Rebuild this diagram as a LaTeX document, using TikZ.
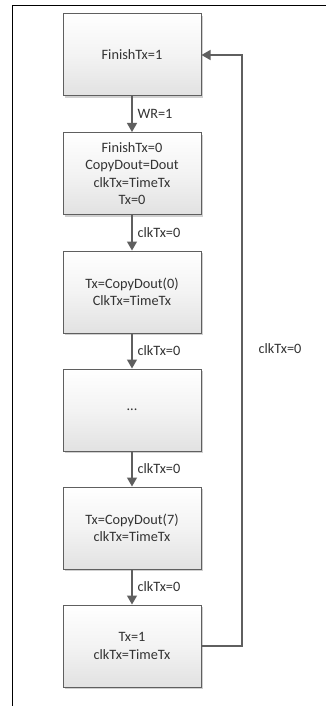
\documentclass[tikz,border=0pt]{standalone}
\usepackage{fontspec}
\setmainfont{Carlito}
\usetikzlibrary{arrows.meta,shadows}
\definecolor{boxline}{HTML}{5F5F5F}
\definecolor{boxfill}{HTML}{F3F3F3}
\definecolor{txt}{HTML}{333333}
\begin{document}
\begin{tikzpicture}[x=1pt,y=1pt,
  every node/.style={font=\fontsize{14.3}{17.3}\selectfont, text=txt},
  statebox/.style={draw=boxline, line width=1pt, top color=white, bottom color=boxfill!85!gray!100, middle color=boxfill,
    minimum width=138pt, minimum height=82pt, align=center, inner sep=0pt,
    drop shadow={shadow xshift=2pt, shadow yshift=-2pt, fill=gray!60, opacity=0.6}},
  flow/.style={draw=boxline, line width=1.2pt, -{Triangle[length=9pt,width=10pt]}},
  lbl/.style={right=5pt, inner sep=0pt}
]
\useasboundingbox (0,0) rectangle (326,-706);
\fill[white] (0,0) rectangle (326,-706);
% frame
\coordinate (ftl) at (12.5,-6);
\coordinate (ftr) at (326,-6);
\coordinate (fbot) at (12.5,-706);
\draw[line width=1pt] (ftr) -- (ftl) -- (fbot);
% states
\node[statebox] (b1) at (132,-55) {FinishTx=1};
\node[statebox] (b2) at (132,-173.5) {FinishTx=0\\CopyDout=Dout\\clkTx=TimeTx\\Tx=0};
\node[statebox] (b3) at (132,-292) {Tx=CopyDout(0)\\ClkTx=TimeTx};
\node[statebox] (b4) at (132,-410) {...};
\node[statebox] (b5) at (132,-528) {Tx=CopyDout(7)\\clkTx=TimeTx};
\node[statebox] (b6) at (132,-646) {Tx=1\\clkTx=TimeTx};
% transitions
\draw[flow] (b1) -- node[lbl] {WR=1} (b2);
\draw[flow] (b2) -- node[lbl] {clkTx=0} (b3);
\draw[flow] (b3) -- node[lbl] {clkTx=0} (b4);
\draw[flow] (b4) -- node[lbl] {clkTx=0} (b5);
\draw[flow] (b5) -- node[lbl] {clkTx=0} (b6);
\coordinate (fb) at (242,-646);
\draw[flow] (b6.east) -- (fb) |- (b1.east);
\node (fblabel) at (280,-349) {clkTx=0};
\end{tikzpicture}
\end{document}
